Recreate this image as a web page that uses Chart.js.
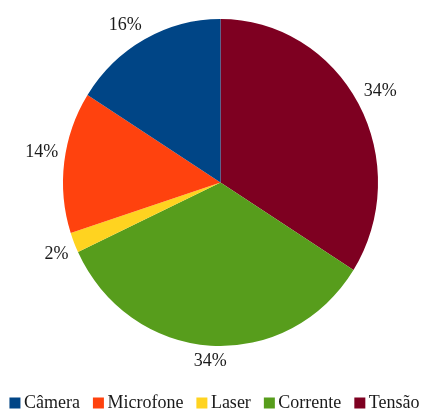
<!DOCTYPE html>
<html>
<head>
<meta charset="utf-8">
<script src="https://cdn.jsdelivr.net/npm/chart.js@4"></script>
<style>
  html, body { margin: 0; padding: 0; background: #fff; }
  #wrap { width: 421px; height: 410px; }
</style>
</head>
<body>
<div id="wrap"><canvas id="pie"></canvas></div>
<script>
// fatias no sentido horário a partir do topo
const categorias = ["Tensão", "Corrente", "Laser", "Microfone", "Câmera"];
const percentuais = [34, 34, 2, 14, 16];
const cores = ["#7e0021", "#579d1c", "#ffd320", "#ff420e", "#004586"];

const FONTE = "'Liberation Serif', 'Times New Roman', serif";
const COR_TEXTO = '#1a1a1a';
const ESCALA_Y = 163.5 / 157.5; // pizza levemente achatada na horizontal

// achata a pizza em torno do centro antes de desenhar
const elipse = {
  id: 'elipse',
  beforeDatasetsDraw(chart) {
    const arc = chart.getDatasetMeta(0).data[0];
    if (!arc) return;
    const ctx = chart.ctx;
    ctx.save();
    ctx.translate(arc.x, arc.y);
    ctx.scale(1, ESCALA_Y);
    ctx.translate(-arc.x, -arc.y);
  },
  afterDatasetsDraw(chart) {
    chart.ctx.restore();
  }
};

// alinhamento do rótulo conforme o ângulo médio (graus, anti-horário)
function alinhamento(graus) {
  const dv = Math.min(Math.abs(graus - 90), Math.abs(graus - 270));
  const ha = dv <= 22.5 ? 'center' : (graus < 90 || graus > 270 ? 'left' : 'right');
  const dh = Math.min(graus, Math.abs(graus - 180), 360 - graus);
  const va = dh < 1 ? 'middle' : (graus < 180 ? 'bottom' : 'top');
  return [ha, va];
}

// rótulos de porcentagem fora da pizza
const rotulos = {
  id: 'rotulos',
  afterDatasetsDraw(chart) {
    const ctx = chart.ctx;
    const meta = chart.getDatasetMeta(0);
    ctx.save();
    ctx.font = '18px ' + FONTE;
    ctx.fillStyle = COR_TEXTO;
    meta.data.forEach((arc, i) => {
      const p = arc.getProps(['x', 'y', 'startAngle', 'endAngle', 'outerRadius'], true);
      const a = (p.startAngle + p.endAngle) / 2;
      const r = p.outerRadius + 6;
      const x = p.x + r * Math.cos(a);
      const y = p.y + r * ESCALA_Y * Math.sin(a);
      const graus = ((-a * 180 / Math.PI) % 360 + 360) % 360;
      const [ha, va] = alinhamento(graus);
      ctx.textAlign = ha;
      ctx.textBaseline = va;
      ctx.fillText(chart.data.datasets[0].data[i] + '%', x, y);
    });
    ctx.restore();
  }
};

// legenda em uma linha, na ordem inversa das fatias
const legenda = {
  id: 'legenda',
  afterDraw(chart) {
    const ctx = chart.ctx;
    const caixa = 11, folga = 3.5, entre = 13;
    const base = chart.height - 2;
    const itens = chart.data.labels.map((t, i) => ({ t, cor: cores[i] })).reverse();
    ctx.save();
    ctx.font = '18px ' + FONTE;
    const larguras = itens.map(it => caixa + folga + ctx.measureText(it.t).width);
    const total = larguras.reduce((s, w) => s + w, 0) + entre * (itens.length - 1);
    let x = (chart.width - total) / 2 + 4;
    ctx.textBaseline = 'alphabetic';
    ctx.textAlign = 'left';
    itens.forEach((it, i) => {
      ctx.fillStyle = it.cor;
      ctx.fillRect(x, base - caixa + 0.5, caixa, caixa);
      ctx.fillStyle = COR_TEXTO;
      ctx.fillText(it.t, x + caixa + folga, base);
      x += larguras[i] + entre;
    });
    ctx.restore();
  }
};

new Chart(document.getElementById('pie'), {
  type: 'pie',
  data: {
    labels: categorias,
    datasets: [{
      data: percentuais,
      backgroundColor: cores,
      borderWidth: 0
    }]
  },
  options: {
    responsive: true,
    maintainAspectRatio: false,
    animation: false,
    layout: { padding: { top: 25, left: 63, right: 43, bottom: 70 } },
    plugins: {
      tooltip: { enabled: false },
      legend: { display: false }
    }
  },
  plugins: [elipse, rotulos, legenda]
});
</script>
</body>
</html>
